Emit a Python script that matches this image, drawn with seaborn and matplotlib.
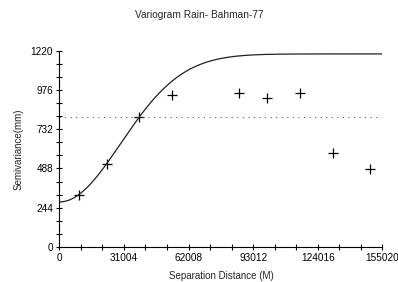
import numpy as np
import pandas as pd
import matplotlib
matplotlib.use("Agg")
import matplotlib.pyplot as plt
from matplotlib.ticker import MultipleLocator
import seaborn as sns

# experimental variogram points (lag distance, semivariance)
lag_dist = [9450, 22750, 38250, 54100, 86100, 99550, 115550, 131250, 149300]
semivar = [322, 514, 805, 947, 955, 927, 955, 586, 487]

# fitted gaussian model and sample variance
nugget = 280
sill = 1200
model_range = 41570
sample_var = 811

x_max = 155020
y_max = 1220

sns.set_style("ticks")
plt.rcParams['font.family'] = ['Liberation Sans', 'DejaVu Sans']

fig = plt.figure(figsize=(3.98, 2.82), dpi=100)
ax = fig.add_axes([0.149, 0.1241, 0.8116, 0.6961])

#model curve
h = np.linspace(0, x_max, 300)
gamma = nugget + (sill - nugget) * (1 - np.exp(-(h / model_range) ** 2))
model = pd.DataFrame({'h': h, 'gamma': gamma})
sns.lineplot(data=model, x='h', y='gamma', ax=ax, color='#202020', linewidth=0.9)

#sample variance line
ax.plot([0, x_max], [sample_var, sample_var], color='#606060', linewidth=0.8,
        linestyle=(0, (1, 4)))

#experimental points
pts = pd.DataFrame({'lag': lag_dist, 'semivar': semivar})
sns.scatterplot(data=pts, x='lag', y='semivar', ax=ax, marker='+', s=55,
                color='black', linewidth=0.9)

ax.set_xlim(0, x_max)
ax.set_ylim(0, y_max)
ax.xaxis.set_major_locator(MultipleLocator(31004))
ax.xaxis.set_minor_locator(MultipleLocator(31004 / 3))
ax.yaxis.set_major_locator(MultipleLocator(244))
ax.yaxis.set_minor_locator(MultipleLocator(244 / 3))
ax.tick_params(which='both', direction='inout', length=4, width=0.8,
               colors='black', labelsize=7.2, pad=2.5)
ax.set_xlabel('')
ax.set_ylabel('Semivariance(mm)', fontsize=7, labelpad=5)
for s in ['top', 'right']:
    ax.spines[s].set_visible(False)
for s in ['left', 'bottom']:
    ax.spines[s].set_linewidth(0.8)
    ax.spines[s].set_color('black')

fig.suptitle('Variogram Rain- Bahman-77', fontsize=7.3, y=1 - 15 / 282, va='center')
fig.text(0.555, 0.004, 'Separation Distance (M)', fontsize=7, ha='center', va='bottom')

fig.savefig('out.png', dpi=100)
